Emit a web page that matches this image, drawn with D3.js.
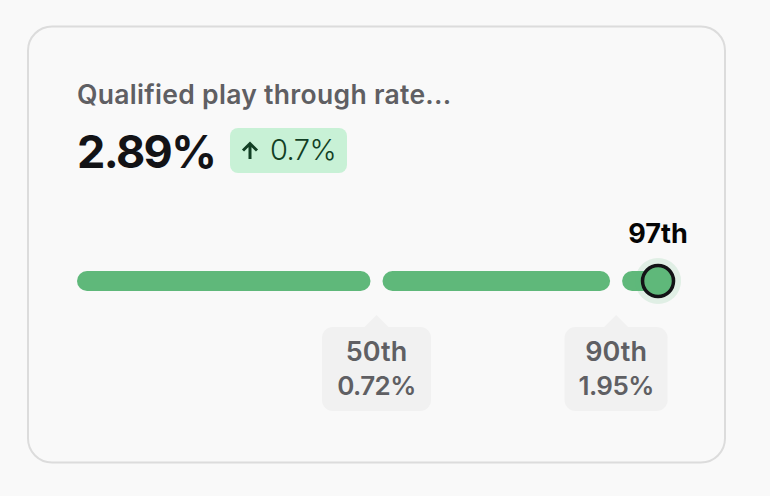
<!DOCTYPE html>
<html>
<head>
<meta charset="utf-8">
<script src="https://cdn.jsdelivr.net/npm/d3@7"></script>
<style>
  html, body { margin: 0; padding: 0; background: #fff; }
  svg { display: block; font-family: Inter, sans-serif; }
</style>
</head>
<body>
<div id="chart"></div>
<script>
const title = 'Qualified play through rate...';
const headline = '2.89%';
const delta = '0.7%';

// percentile positions on the bar
const segmentStarts = [0, 50, 90];
const segmentEnds = [50, 90, 97];
const benchmarkPercentiles = [50, 90];
const benchmarkLabels = ['50th', '90th'];
const benchmarkValues = ['0.72%', '1.95%'];
const currentPercentile = 97;
const currentLabel = '97th';

const green = '#5fb87a';
const ink = '#131316';
const grey = '#5f5f63';
const chip = '#f1f1f1';

const W = 770, H = 496;
const svg = d3.select('#chart').append('svg').attr('width', W).attr('height', H);
const x = d3.scaleLinear().domain([0, 100]).range([77, 676]);
const gap = 6;
const barY = 271, barH = 20;

// card
svg.append('rect').attr('width', W).attr('height', H).attr('fill', '#f9f9f9');
svg.append('rect').attr('x', 28).attr('y', 26.5).attr('width', 697).attr('height', 436)
  .attr('rx', 24).attr('fill', '#f9f9f9').attr('stroke', '#dcdcdc').attr('stroke-width', 2);

// header
svg.append('text').attr('x', 77).attr('y', 104).text(title)
  .style('font-size', '26.5px').style('font-weight', 600).style('fill', grey).style('letter-spacing', '0.3px');
svg.append('text').attr('x', 77).attr('y', 168).text(headline)
  .style('font-size', '45px').style('font-weight', 700).style('fill', ink).style('letter-spacing', '-1.6px');

svg.append('rect').attr('x', 230).attr('y', 128).attr('width', 117).attr('height', 45)
  .attr('rx', 8).attr('fill', '#c8f1d6');
svg.append('path').attr('d', 'M250 159V144M243 150.5L250 143.5L257 150.5')
  .attr('fill', 'none').attr('stroke', '#123f24').attr('stroke-width', 3);
svg.append('text').attr('x', 270).attr('y', 160).text(delta)
  .style('font-size', '29px').style('font-weight', 300).style('fill', '#123f24').style('letter-spacing', '-0.6px');

// bar segments
svg.selectAll('.segment').data(segmentStarts).join('rect')
  .attr('class', 'segment')
  .attr('x', (d, i) => x(d) + (i === 0 ? 0 : gap))
  .attr('y', barY)
  .attr('width', (d, i) => x(segmentEnds[i]) - x(d) - (i === 0 ? gap : i === segmentStarts.length - 1 ? gap : gap * 2))
  .attr('height', barH)
  .attr('rx', 10)
  .attr('fill', green);

// benchmark callouts
const boxW = [109, 103], boxTop = 327, boxH = 84;
const callout = svg.selectAll('.callout').data(benchmarkPercentiles).join('g')
  .attr('class', 'callout')
  .attr('transform', d => `translate(${x(d)},0)`);
callout.append('path').attr('d', `M-13 ${boxTop + 1}L0 ${boxTop - 12}L13 ${boxTop + 1}Z`).attr('fill', chip);
callout.append('rect')
  .attr('x', (d, i) => -boxW[i] / 2).attr('y', boxTop)
  .attr('width', (d, i) => boxW[i]).attr('height', boxH)
  .attr('rx', 11).attr('fill', chip);
callout.append('text').attr('y', 361).attr('text-anchor', 'middle')
  .text((d, i) => benchmarkLabels[i])
  .style('font-size', '27px').style('font-weight', 600).style('fill', grey);
callout.append('text').attr('y', 395).attr('text-anchor', 'middle')
  .text((d, i) => benchmarkValues[i])
  .style('font-size', '26px').style('font-weight', 600).style('fill', grey).style('letter-spacing', '-0.6px');

// current value marker
const markerX = x(currentPercentile), markerY = barY + barH / 2;
svg.append('circle').attr('cx', markerX).attr('cy', markerY).attr('r', 23)
  .attr('fill', green).attr('fill-opacity', 0.16);
svg.append('circle').attr('cx', markerX).attr('cy', markerY).attr('r', 15.5)
  .attr('fill', green).attr('stroke', ink).attr('stroke-width', 3.5);
svg.append('text').attr('x', markerX).attr('y', 243).attr('text-anchor', 'middle').text(currentLabel)
  .style('font-size', '27px').style('font-weight', 700).style('fill', '#050505');
</script>
</body>
</html>
